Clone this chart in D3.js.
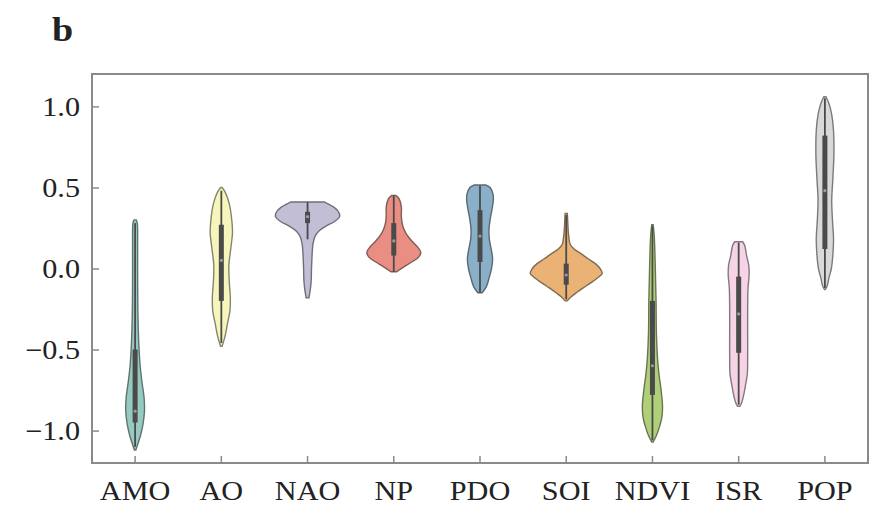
<!DOCTYPE html>
<html>
<head>
<meta charset="utf-8">
<script src="https://cdn.jsdelivr.net/npm/d3@7"></script>
<style>
  html, body { margin: 0; padding: 0; background: #fff; }
  svg { display: block; }
  text { font-family: "Liberation Serif", "Times New Roman", serif; fill: #222; }
</style>
</head>
<body>
<svg id="chart" width="871" height="506"></svg>
<script>
// Indices shown along the x axis
const categories = ["AMO", "AO", "NAO", "NP", "PDO", "SOI", "NDVI", "ISR", "POP"];
// Set3 palette, one colour per index
const palette = ["#8dd3c7", "#ffffb3", "#bebada", "#fb8072", "#80b1d3", "#fdb462", "#b3de69", "#fccde5", "#d9d9d9"];
const yTicks = [-1.0, -0.5, 0.0, 0.5, 1.0];

// Kernel density profiles: [value, relative density]
const densityAMO  = [[0.30,0.03],[0.28,0.06],[0.15,0.07],[0.0,0.07],[-0.3,0.08],[-0.5,0.11],[-0.6,0.14],[-0.7,0.19],[-0.8,0.25],[-0.88,0.26],[-0.96,0.22],[-1.03,0.15],[-1.08,0.08],[-1.12,0.02]];
const densityAO   = [[0.50,0.02],[0.47,0.11],[0.40,0.22],[0.30,0.29],[0.22,0.31],[0.12,0.26],[0.02,0.21],[-0.08,0.22],[-0.18,0.25],[-0.26,0.24],[-0.34,0.17],[-0.42,0.10],[-0.48,0.02]];
const densityNAO  = [[0.41,0.47],[0.38,0.72],[0.35,0.86],[0.32,0.89],[0.29,0.75],[0.26,0.50],[0.23,0.31],[0.20,0.21],[0.15,0.15],[0.10,0.13],[0.0,0.11],[-0.08,0.10],[-0.14,0.07],[-0.18,0.04]];
const densityNP   = [[0.45,0.06],[0.43,0.15],[0.38,0.21],[0.32,0.21],[0.27,0.24],[0.22,0.33],[0.17,0.50],[0.13,0.67],[0.10,0.75],[0.07,0.69],[0.04,0.50],[0.01,0.28],[-0.02,0.08]];
const densityPDO  = [[0.515,0.17],[0.50,0.28],[0.46,0.36],[0.42,0.37],[0.36,0.33],[0.30,0.28],[0.24,0.25],[0.18,0.26],[0.12,0.31],[0.06,0.35],[0.0,0.32],[-0.06,0.25],[-0.11,0.18],[-0.15,0.06]];
const densitySOI  = [[0.34,0.03],[0.30,0.04],[0.25,0.05],[0.20,0.07],[0.15,0.11],[0.12,0.22],[0.09,0.42],[0.06,0.61],[0.03,0.81],[0.0,0.94],[-0.03,1.0],[-0.06,0.86],[-0.09,0.67],[-0.12,0.47],[-0.15,0.28],[-0.18,0.11],[-0.20,0.03]];
const densityNDVI = [[0.27,0.02],[0.2,0.05],[0.0,0.08],[-0.2,0.10],[-0.4,0.11],[-0.55,0.14],[-0.65,0.18],[-0.75,0.24],[-0.85,0.28],[-0.92,0.26],[-0.98,0.19],[-1.03,0.11],[-1.07,0.02]];
const densityISR  = [[0.165,0.11],[0.14,0.17],[0.08,0.22],[0.02,0.28],[-0.04,0.29],[-0.12,0.26],[-0.25,0.25],[-0.4,0.25],[-0.55,0.25],[-0.65,0.24],[-0.72,0.19],[-0.78,0.14],[-0.83,0.08],[-0.85,0.03]];
const densityPOP  = [[1.06,0.03],[1.02,0.11],[0.95,0.19],[0.85,0.24],[0.7,0.25],[0.55,0.22],[0.42,0.19],[0.3,0.21],[0.18,0.24],[0.08,0.22],[0.0,0.18],[-0.06,0.11],[-0.11,0.06],[-0.13,0.01]];

// Box statistics per index
const whiskerHigh = [0.28, 0.48, 0.41, 0.45, 0.51, 0.33, 0.26, 0.16, 1.05];
const quartile3   = [-0.50, 0.27, 0.35, 0.28, 0.36, 0.03, -0.20, -0.05, 0.82];
const medians     = [-0.88, 0.05, 0.32, 0.17, 0.20, -0.04, -0.60, -0.28, 0.48];
const quartile1   = [-0.95, -0.20, 0.28, 0.08, 0.04, -0.10, -0.78, -0.52, 0.12];
const whiskerLow  = [-1.10, -0.46, 0.18, -0.02, -0.15, -0.19, -1.06, -0.84, -0.12];

const densities = [densityAMO, densityAO, densityNAO, densityNP, densityPDO, densitySOI, densityNDVI, densityISR, densityPOP];

const svg = d3.select("#chart");
const plotLeft = 92, plotRight = 868, plotTop = 74, plotBottom = 463;

const x = d3.scaleBand().domain(categories).range([plotLeft, plotRight]).paddingInner(0).paddingOuter(0);
const y = d3.scaleLinear().domain([-1.2, 1.2]).range([plotBottom, plotTop]);
const w = d3.scaleLinear().domain([0, 1]).range([0, 36]);

// seaborn-style desaturation of the palette
const fills = palette.map(c => { const h = d3.hsl(c); h.s *= 0.75; return h.formatHex(); });
const innerGray = "#4a4a4a";
const frameColor = "#8a8a8a";
const textScale = 1.12;

// Violins
const g = svg.append("g");
categories.forEach((cat, i) => {
  const cx = x(cat) + x.bandwidth() / 2;
  const area = d3.area()
    .y(d => y(d[0]))
    .x0(d => cx - w(d[1]))
    .x1(d => cx + w(d[1]))
    .curve(d3.curveCatmullRom.alpha(0.5));
  g.append("path")
    .attr("d", area(densities[i]))
    .attr("fill", fills[i])
    .attr("stroke", d3.interpolateRgb(fills[i], "#3a3a3a")(0.6))
    .attr("stroke-width", 1.4);
  // whiskers
  g.append("line")
    .attr("x1", cx).attr("x2", cx)
    .attr("y1", y(whiskerHigh[i])).attr("y2", y(whiskerLow[i]))
    .attr("stroke", innerGray).attr("stroke-width", 1.8);
  // interquartile box
  g.append("line")
    .attr("x1", cx).attr("x2", cx)
    .attr("y1", y(quartile3[i])).attr("y2", y(quartile1[i]))
    .attr("stroke", innerGray).attr("stroke-width", 5);
  // median
  g.append("circle")
    .attr("cx", cx).attr("cy", y(medians[i])).attr("r", 1.6)
    .attr("fill", "#fff").attr("opacity", 0.45);
});

// Frame
svg.append("rect")
  .attr("x", plotLeft).attr("y", plotTop)
  .attr("width", plotRight - plotLeft).attr("height", plotBottom - plotTop)
  .attr("fill", "none").attr("stroke", frameColor).attr("stroke-width", 2);

// Y axis with inward ticks
const yAxis = d3.axisLeft(y).tickValues(yTicks).tickSize(-7).tickPadding(12)
  .tickFormat(d => d3.format(".1f")(d).replace("-", "\u2212"));
const ya = svg.append("g").attr("transform", `translate(${plotLeft},0)`).call(yAxis);
ya.select(".domain").remove();
ya.selectAll(".tick line").attr("stroke", frameColor).attr("stroke-width", 1.5);
ya.selectAll(".tick text")
  .attr("font-size", 27)
  .attr("fill", "#2a2a2a")
  .attr("dy", "0.34em")
  .attr("transform", function() { const xx = +d3.select(this).attr("x"); return `translate(${xx},0) scale(${textScale},1) translate(${-xx},0)`; });

// X axis with inward ticks
const xAxis = d3.axisBottom(x).tickSize(-7).tickPadding(18);
const xa = svg.append("g").attr("transform", `translate(0,${plotBottom})`).call(xAxis);
xa.select(".domain").remove();
xa.selectAll(".tick line").attr("stroke", frameColor).attr("stroke-width", 1.5);
xa.selectAll(".tick text")
  .attr("font-size", 27)
  .attr("fill", "#2a2a2a")
  .attr("dy", "0.71em")
  .attr("transform", `scale(${textScale},1)`);

// Panel letter
svg.append("text")
  .attr("x", 52).attr("y", 41)
  .attr("font-size", 34).attr("font-weight", "bold")
  .attr("fill", "#111")
  .attr("transform", `translate(52,0) scale(${textScale},1) translate(-52,0)`)
  .text("b");
</script>
</body>
</html>
